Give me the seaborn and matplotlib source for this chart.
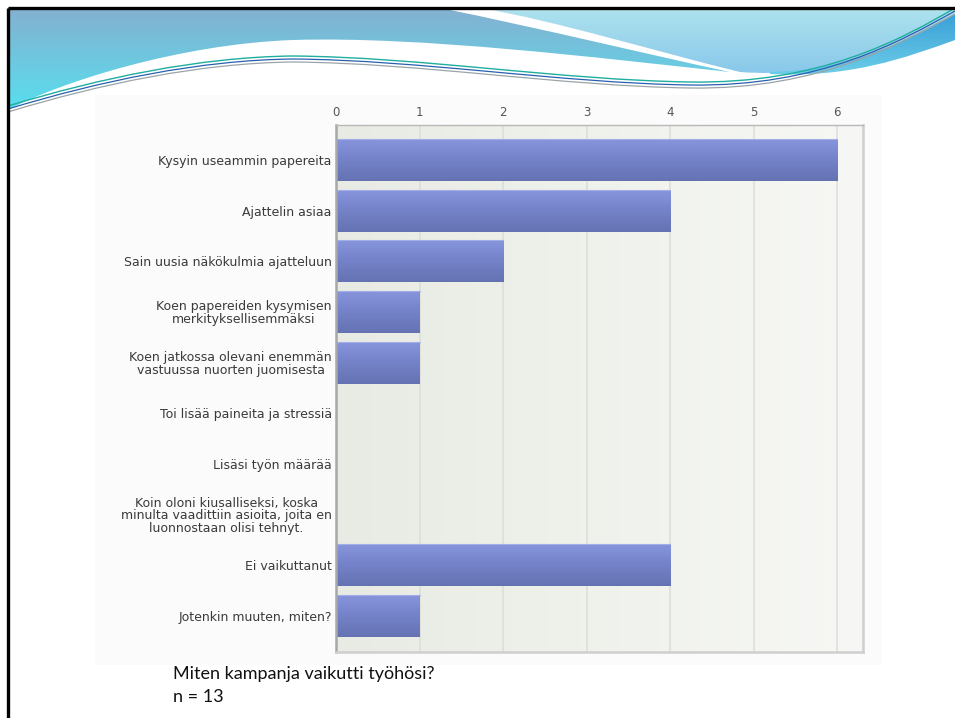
import numpy as np
import pandas as pd
import matplotlib
matplotlib.use("Agg")
import matplotlib.pyplot as plt
from matplotlib.path import Path
from matplotlib.patches import PathPatch, Rectangle
from matplotlib.colors import LinearSegmentedColormap
import seaborn as sns

# ---------------- data ----------------
categories = [
    "Kysyin useammin papereita",
    "Ajattelin asiaa",
    "Sain uusia näkökulmia ajatteluun",
    "Koen papereiden kysymisen\nmerkityksellisemmäksi",
    "Koen jatkossa olevani enemmän\nvastuussa nuorten juomisesta",
    "Toi lisää paineita ja stressiä",
    "Lisäsi työn määrää",
    "Koin oloni kiusalliseksi, koska\nminulta vaadittiin asioita, joita en\nluonnostaan olisi tehnyt.",
    "Ei vaikuttanut",
    "Jotenkin muuten, miten?",
]
counts = [6, 4, 2, 1, 1, 0, 0, 0, 4, 1]
x_ticks = [0, 1, 2, 3, 4, 5, 6]
caption_lines = ["Miten kampanja vaikutti työhösi?", "n = 13"]

df = pd.DataFrame({"vastaus": categories, "lkm": counts})

sns.set_theme(style="white")
plt.rcParams["font.family"] = ["DejaVu Sans"]

W, H = 955, 718
fig = plt.figure(figsize=(W / 100, H / 100), dpi=100)
fig.patch.set_facecolor("white")

# ---------------- slide background decoration ----------------
bg = fig.add_axes([0, 0, 1, 1], zorder=-10)
bg.set_xlim(0, W)
bg.set_ylim(H, 0)
bg.axis("off")

def grad_patch(ax, verts, codes, c_top, c_bot, y0, y1, alpha=1.0):
    path = Path(verts, codes)
    patch = PathPatch(path, facecolor="none", edgecolor="none")
    ax.add_patch(patch)
    cmap = LinearSegmentedColormap.from_list("g", [c_top, c_bot])
    g = np.linspace(0, 1, 256)
    xs = [v[0] for v in verts]
    im = ax.imshow(g[:, None], cmap=cmap, extent=[min(xs), max(xs), y1, y0],
                   aspect="auto", origin="upper", zorder=1, alpha=alpha)
    im.set_clip_path(patch)

M, L, C = Path.MOVETO, Path.LINETO, Path.CURVE4

# region A (left blue wave)
vA = [(8, 8), (440, 8),
      (540, 28), (650, 55), (730, 72),
      (600, 58), (420, 36), (293, 40),
      (180, 44), (60, 82), (8, 110),
      (8, 8)]
cA = [M, L, C, C, C, C, C, C, C, C, C, L]
grad_patch(bg, vA, cA, "#84b0d0", "#58dfee", 8, 110)

# region B (right light cyan)
vB = [(481, 8), (955, 8), (955, 18),
      (900, 55), (820, 78), (740, 72),
      (650, 50), (560, 22), (481, 8)]
cB = [M, L, L, C, C, C, C, C, C]
grad_patch(bg, vB, cB, "#aee3ee", "#86c6ea", 8, 78)

# region C (blue swoosh on right)
vC = [(770, 72), (850, 70), (910, 40), (955, 14),
      (955, 40), (905, 58), (850, 78), (770, 74)]
cC = [M, C, C, C, L, C, C, C]
grad_patch(bg, vC, cC, "#3aa0d8", "#6fd0e8", 14, 78)

# thin swoosh lines
for dy, col, lw in [(0, "#1fae9f", 1.0), (3, "#2860b0", 0.9), (6, "#9aa4a8", 0.9)]:
    vl = [(8, 106 + dy), (100, 78 + dy), (200, 57 + dy), (293, 56 + dy),
          (420, 57 + dy), (560, 80 + dy), (690, 82 + dy),
          (820, 84 + dy), (900, 40 + dy * 0.5), (955, 8 + dy)]
    cl = [M, C, C, C, C, C, C, C, C, C]
    bg.add_patch(PathPatch(Path(vl, cl), facecolor="none", edgecolor=col, lw=lw, zorder=3))

# chart-image backdrop (very faint)
bg.add_patch(Rectangle((95, 95), 787, 570, facecolor="#fbfbfb", edgecolor="none", zorder=0))

# black slide border
bg.plot([8, 8], [8, H], color="black", lw=2.4, zorder=5, solid_capstyle="butt")
bg.plot([8, W], [8, 8], color="black", lw=2.4, zorder=5, solid_capstyle="butt")

# ---------------- chart ----------------
ax_l, ax_r, ax_t, ax_b = 336, 863, 125, 652
ax = fig.add_axes([ax_l / W, 1 - ax_b / H, (ax_r - ax_l) / W, (ax_b - ax_t) / H])

sns.barplot(data=df, y="vastaus", x="lkm", orient="h", color="#7a88cc",
            width=0.83, ax=ax, zorder=3, edgecolor="none")

xmax = 6.31
ymin, ymax = 9.71, -0.69

# background horizontal gradient
bgc = LinearSegmentedColormap.from_list("bgc", ["#e8ebe3", "#f7f8f5"])
ax.imshow(np.linspace(0, 1, 256)[None, :], cmap=bgc, extent=[0, 1, 0, 1],
          transform=ax.transAxes, aspect="auto", zorder=0)

# gradient fill on bars
barc = LinearSegmentedColormap.from_list("barc", ["#8796de", "#7482c8", "#6572b2"])
for p in list(ax.patches):
    w = p.get_width()
    if w <= 0:
        continue
    x0, y0, h = p.get_x(), p.get_y(), p.get_height()
    im = ax.imshow(np.linspace(0, 1, 128)[:, None], cmap=barc,
                   extent=[x0, x0 + w, y0 + h, y0], aspect="auto",
                   origin="upper", zorder=3.5)
    im.set_clip_path(p)
    ax.plot([x0, x0 + w], [y0, y0], color="#a4aee6", lw=0.8, zorder=3.6)

ax.set_xlim(0, xmax)
ax.set_ylim(ymin, ymax)
ax.set_xticks(x_ticks)
ax.xaxis.tick_top()
ax.xaxis.set_label_position("top")
ax.set_xlabel("")
ax.set_ylabel("")
ax.grid(False)
for t in x_ticks[1:]:
    ax.axvline(t, color="#dcdcd8", lw=1.1, zorder=1)

ax.tick_params(axis="x", length=0, pad=4, labelsize=8.5, labelcolor="#555555")
ax.tick_params(axis="y", length=0, pad=3, labelsize=9, labelcolor="#3a3a3a")
for t in ax.get_yticklabels():
    t.set_multialignment("center")
    t.set_linespacing(0.95)

ax.spines["left"].set_color("#a8a8a8")
ax.spines["left"].set_linewidth(1.8)
ax.spines["top"].set_color("#b8b8b8")
ax.spines["top"].set_linewidth(1.0)
ax.spines["bottom"].set_color("#cfcfcf")
ax.spines["bottom"].set_linewidth(1.8)
ax.spines["right"].set_color("#cfcfcf")
ax.spines["right"].set_linewidth(1.8)
for s in ax.spines.values():
    s.set_zorder(5)

# caption
fig.text(173 / W, 1 - 679 / H, caption_lines[0], fontsize=13, family=["Lato", "DejaVu Sans"],
         color="#111111", va="baseline", ha="left")
fig.text(173 / W, 1 - 702 / H, caption_lines[1], fontsize=13, family=["Lato", "DejaVu Sans"],
         color="#111111", va="baseline", ha="left")

fig.savefig("out.png", dpi=100, facecolor="white")
